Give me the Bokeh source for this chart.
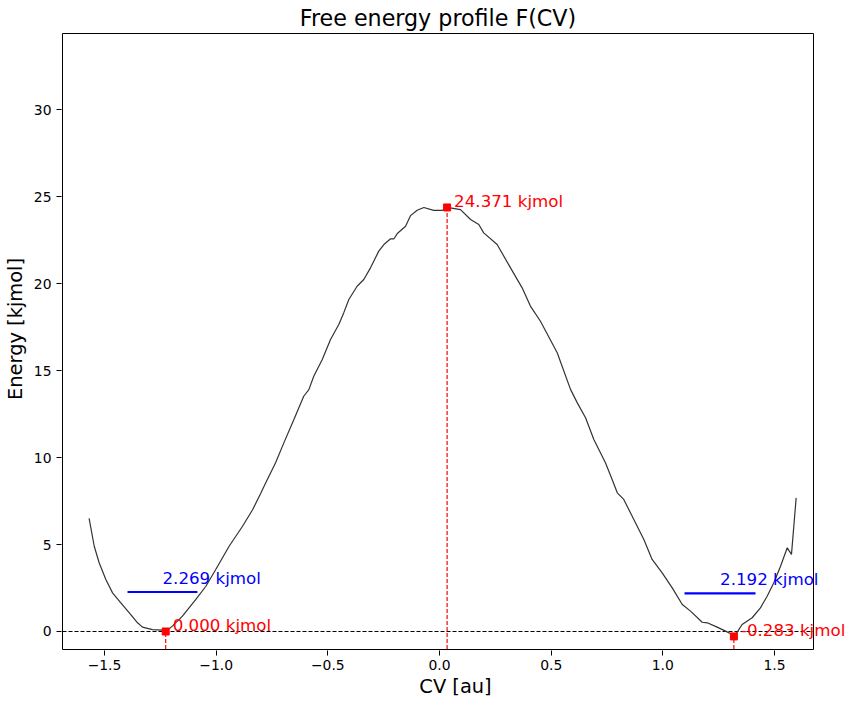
from bokeh.plotting import figure
from bokeh.models import Label, FixedTicker, Range1d, BoxAnnotation
from bokeh.embed import file_html
from bokeh.resources import INLINE

cv = [-1.569, -1.546, -1.524, -1.494, -1.464, -1.427, -1.389, -1.352, -1.330, -1.285,
      -1.240, -1.226, -1.196, -1.151, -1.091, -1.046, -1.002, -0.942, -0.882, -0.837,
      -0.802, -0.778, -0.734, -0.697, -0.652, -0.608, -0.585, -0.563, -0.525, -0.488,
      -0.451, -0.429, -0.406, -0.369, -0.339, -0.309, -0.272, -0.249, -0.219, -0.204,
      -0.189, -0.152, -0.130, -0.100, -0.070, -0.026, 0.012, 0.034, 0.094, 0.139,
      0.176, 0.198, 0.258, 0.318, 0.370, 0.407, 0.452, 0.527, 0.587, 0.617,
      0.654, 0.691, 0.743, 0.773, 0.796, 0.825, 0.870, 0.915, 0.952, 0.997,
      1.042, 1.087, 1.124, 1.176, 1.199, 1.243, 1.281, 1.311, 1.318, 1.333,
      1.355, 1.400, 1.437, 1.467, 1.497, 1.527, 1.557, 1.576, 1.597]
energy = [6.50, 4.90, 3.95, 2.99, 2.22, 1.65, 1.07, 0.50, 0.25, 0.11,
          0.08, 0.00, 0.31, 0.88, 1.84, 2.60, 3.56, 4.90, 6.05, 7.00,
          7.90, 8.55, 9.70, 10.84, 12.18, 13.52, 13.90, 14.67, 15.63, 16.78,
          17.64, 18.31, 19.08, 19.84, 20.23, 20.90, 21.86, 22.24, 22.57, 22.57,
          22.87, 23.29, 23.90, 24.21, 24.37, 24.20, 24.20, 24.371, 24.25, 23.68,
          23.39, 22.91, 22.24, 20.90, 19.75, 18.70, 17.83, 16.02, 13.90, 13.14,
          12.28, 11.03, 9.70, 8.74, 7.97, 7.59, 6.44, 5.29, 4.14, 3.37,
          2.51, 1.55, 1.17, 0.53, 0.50, 0.25, 0.02, -0.17, -0.283, -0.04,
          0.40, 0.79, 1.36, 2.03, 2.80, 3.75, 4.81, 4.43, 7.68]

# Stationary points (minima and barrier)
pt_x = [-1.226, 0.034, 1.318]
pt_y = [0.000, 24.371, -0.283]
pt_labels = ["0.000 kjmol", "24.371 kjmol", "-0.283 kjmol"]

# Levels (blue)
lvl_x0 = [-1.397, 1.097]
lvl_x1 = [-1.084, 1.415]
lvl_y = [2.269, 2.192]
lvl_labels = ["2.269 kjmol", "2.192 kjmol"]

title_text = "Free energy profile F(CV)"
x_ticks = [-1.5, -1.0, -0.5, 0.0, 0.5, 1.0, 1.5]
y_ticks = [0, 5, 10, 15, 20, 25, 30]

# axes limits
X_MIN, X_MAX = -1.6881, 1.6746
Y_MIN, Y_MAX = -1.0345, 34.368

FONT = "DejaVu Sans"
PX_X = 751 / (X_MAX - X_MIN)   # pixels per x unit
PX_Y = 616 / (Y_MAX - Y_MIN)   # pixels per y unit

# drawing area extends beyond the axes box so that texts are not clipped
FW, FH = 788, 643
x_range = Range1d(X_MIN - 1 / PX_X, X_MIN - 1 / PX_X + FW / PX_X)
y_range = Range1d(Y_MIN - 1 / PX_Y, Y_MIN - 1 / PX_Y + FH / PX_Y)

p = figure(frame_width=FW, frame_height=FH, output_backend="svg",
           toolbar_location=None, x_range=x_range, y_range=y_range,
           min_border_left=53, min_border_right=0, min_border_top=7,
           min_border_bottom=49)
p.border_fill_color = "white"
p.outline_line_color = None
p.grid.visible = False

xlabels = {t: f"{t:.1f}".replace("-", "\u2212") for t in x_ticks}
ylabels = {t: f"{t:d}" for t in y_ticks}

for ax, ticks, labs in ((p.xaxis[0], x_ticks, xlabels), (p.yaxis[0], y_ticks, ylabels)):
    ax.ticker = FixedTicker(ticks=ticks)
    ax.major_label_overrides = labs
    ax.minor_tick_line_color = None
    ax.major_tick_in = 0
    ax.major_tick_out = 5
    ax.major_label_text_font = FONT
    ax.major_label_text_font_size = "13.9px"
    ax.major_label_text_color = "black"
    ax.axis_label_text_font = FONT
    ax.axis_label_text_font_size = "19.4px"
    ax.axis_label_text_font_style = "normal"
    ax.axis_label_text_color = "black"
    ax.axis_line_color = None
    ax.major_tick_line_color = "black"

p.xaxis.major_label_standoff = 4
p.xaxis.axis_label_standoff = 2
p.yaxis.major_label_standoff = 5
p.yaxis.axis_label_standoff = 4

p.xaxis.axis_label = "CV [au]"
p.yaxis.axis_label = "Energy [kjmol]"

# axes box
p.add_layout(BoxAnnotation(left=X_MIN, right=X_MAX, bottom=Y_MIN, top=Y_MAX,
                           fill_color=None, fill_alpha=0, line_color="black",
                           line_alpha=1.0, line_width=1))

# title
p.add_layout(Label(x=(X_MIN + X_MAX) / 2, y=Y_MAX, y_offset=16, text=title_text,
                   text_align="center", text_baseline="alphabetic",
                   text_font=FONT, text_font_size="22.2px", text_color="black"))

# zero line
p.segment(x0=[X_MIN], y0=[0], x1=[X_MAX], y1=[0], line_color="black",
          line_dash="4 2", line_width=1)

# curve
p.line(cv, energy, line_color="#333333", line_width=1.2)

# vertical dashed drops
p.segment(x0=pt_x, y0=[Y_MIN - 1] * 3, x1=pt_x, y1=pt_y,
          line_color="red", line_dash="4 2", line_width=1.2)
p.scatter(pt_x, pt_y, marker="square", size=7, color="red")

for x, y, t in zip(pt_x, pt_y, pt_labels):
    p.add_layout(Label(x=x, y=y, text=t, x_offset=7, y_offset=6, text_color="red",
                       text_font=FONT, text_font_size="16.7px",
                       text_baseline="alphabetic", text_align="left"))

# blue level lines
p.segment(x0=lvl_x0, y0=lvl_y, x1=lvl_x1, y1=lvl_y, line_color="blue", line_width=2.2)
for x0, x1, y, t in zip(lvl_x0, lvl_x1, lvl_y, lvl_labels):
    p.add_layout(Label(x=(x0 + x1) / 2, y=y, text=t, y_offset=14, text_color="blue",
                       text_font=FONT, text_font_size="16.7px",
                       text_baseline="alphabetic", text_align="left"))

open("out.html", "w").write(file_html(p, INLINE))
